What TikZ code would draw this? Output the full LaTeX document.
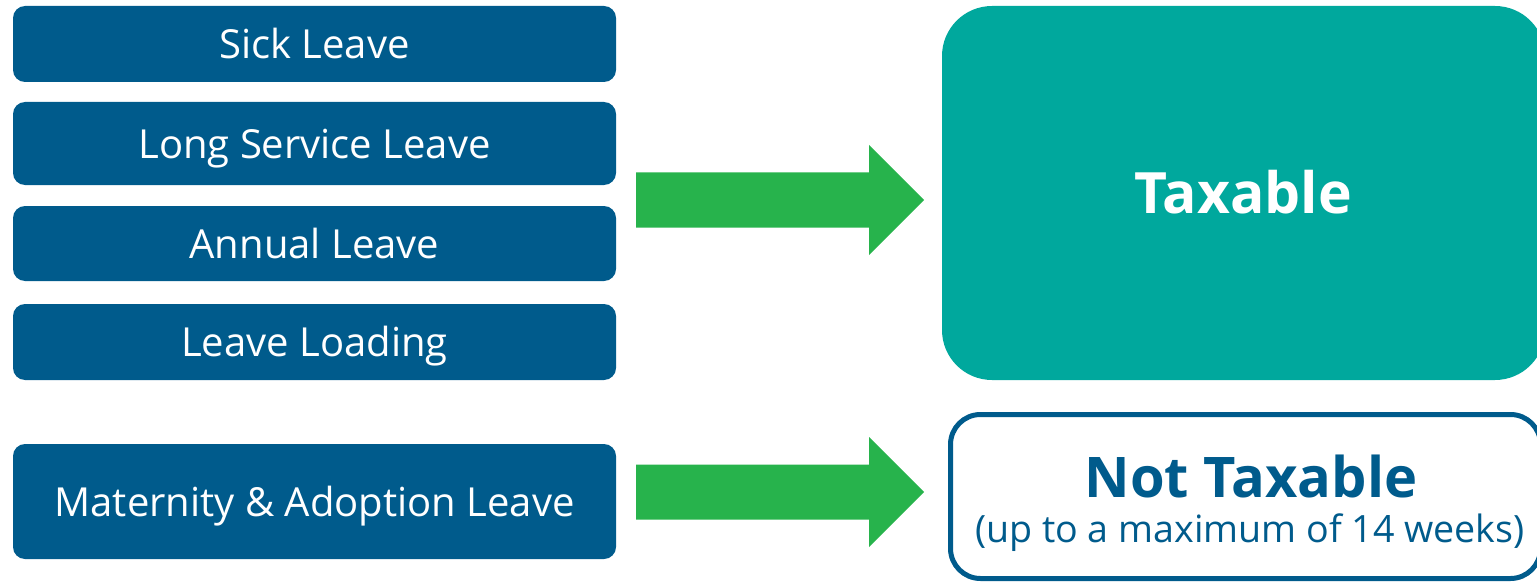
\documentclass[tikz,border=0pt]{standalone}
\usepackage{fontspec}
\setmainfont{Open Sans}
\definecolor{navy}{HTML}{005B8C}
\definecolor{teal}{HTML}{00A89D}
\definecolor{arrowgreen}{HTML}{27B34C}
\tikzset{
  leavebox/.style={fill=navy, rounded corners=12pt, inner sep=0pt, minimum width=603pt, text=white,
    font=\fontsize{40}{48}\selectfont, text height=29.6pt, text depth=0pt},
  bigarrow/.style={fill=arrowgreen, draw=none},
}
\begin{document}
\begin{tikzpicture}[x=1pt,y=-1pt]
\useasboundingbox (0,0) rectangle (1537,583);
\clip (0,0) rectangle (1537,583);
% left boxes
\node[leavebox, minimum height=76pt] (sick) at (314.5,44) {Sick Leave};
\node[leavebox, minimum height=83pt] (lsl) at (314.5,143.5) {Long Service Leave};
\node[leavebox, minimum height=75pt] (annual) at (314.5,243.5) {Annual Leave};
\node[leavebox, minimum height=76pt] (loading) at (314.5,342) {Leave Loading};
\node[leavebox, minimum height=115pt] (mat) at (314.5,501.5) {Maternity \& Adoption Leave};
% right boxes
\node[fill=teal, rounded corners=50pt, inner sep=0pt, minimum width=603pt, minimum height=374pt] (tax) at (1243.5,193) {};
\node[text=white, font=\bfseries\fontsize{57}{66}\selectfont] (taxlbl) at (1243,192) {Taxable};
\node[draw=navy, line width=5pt, fill=white, rounded corners=30pt, inner sep=0pt, minimum width=590pt, minimum height=164pt] (ntax) at (1245.5,496.5) {};
\node[text=navy, font=\bfseries\fontsize{56}{66}\selectfont] (ntaxlbl) at (1251,476) {Not Taxable};
\node[text=navy, font=\fontsize{37.6}{44}\selectfont] (ntaxsub) at (1250,533) {(up to a maximum of 14 weeks)};
% arrows
\coordinate (a1) at (636,200);
\coordinate (a2) at (636,492);
\fill[bigarrow] (a1) ++(0,-27.5) -- ++(233,0) -- ++(0,-27.5) -- (924,200) -- (869,255) -- ++(0,-27.5) -- ++(-233,0) -- cycle;
\fill[bigarrow] (a2) ++(0,-27.5) -- ++(233,0) -- ++(0,-27.5) -- (924,492) -- (869,547) -- ++(0,-27.5) -- ++(-233,0) -- cycle;
\end{tikzpicture}
\end{document}
